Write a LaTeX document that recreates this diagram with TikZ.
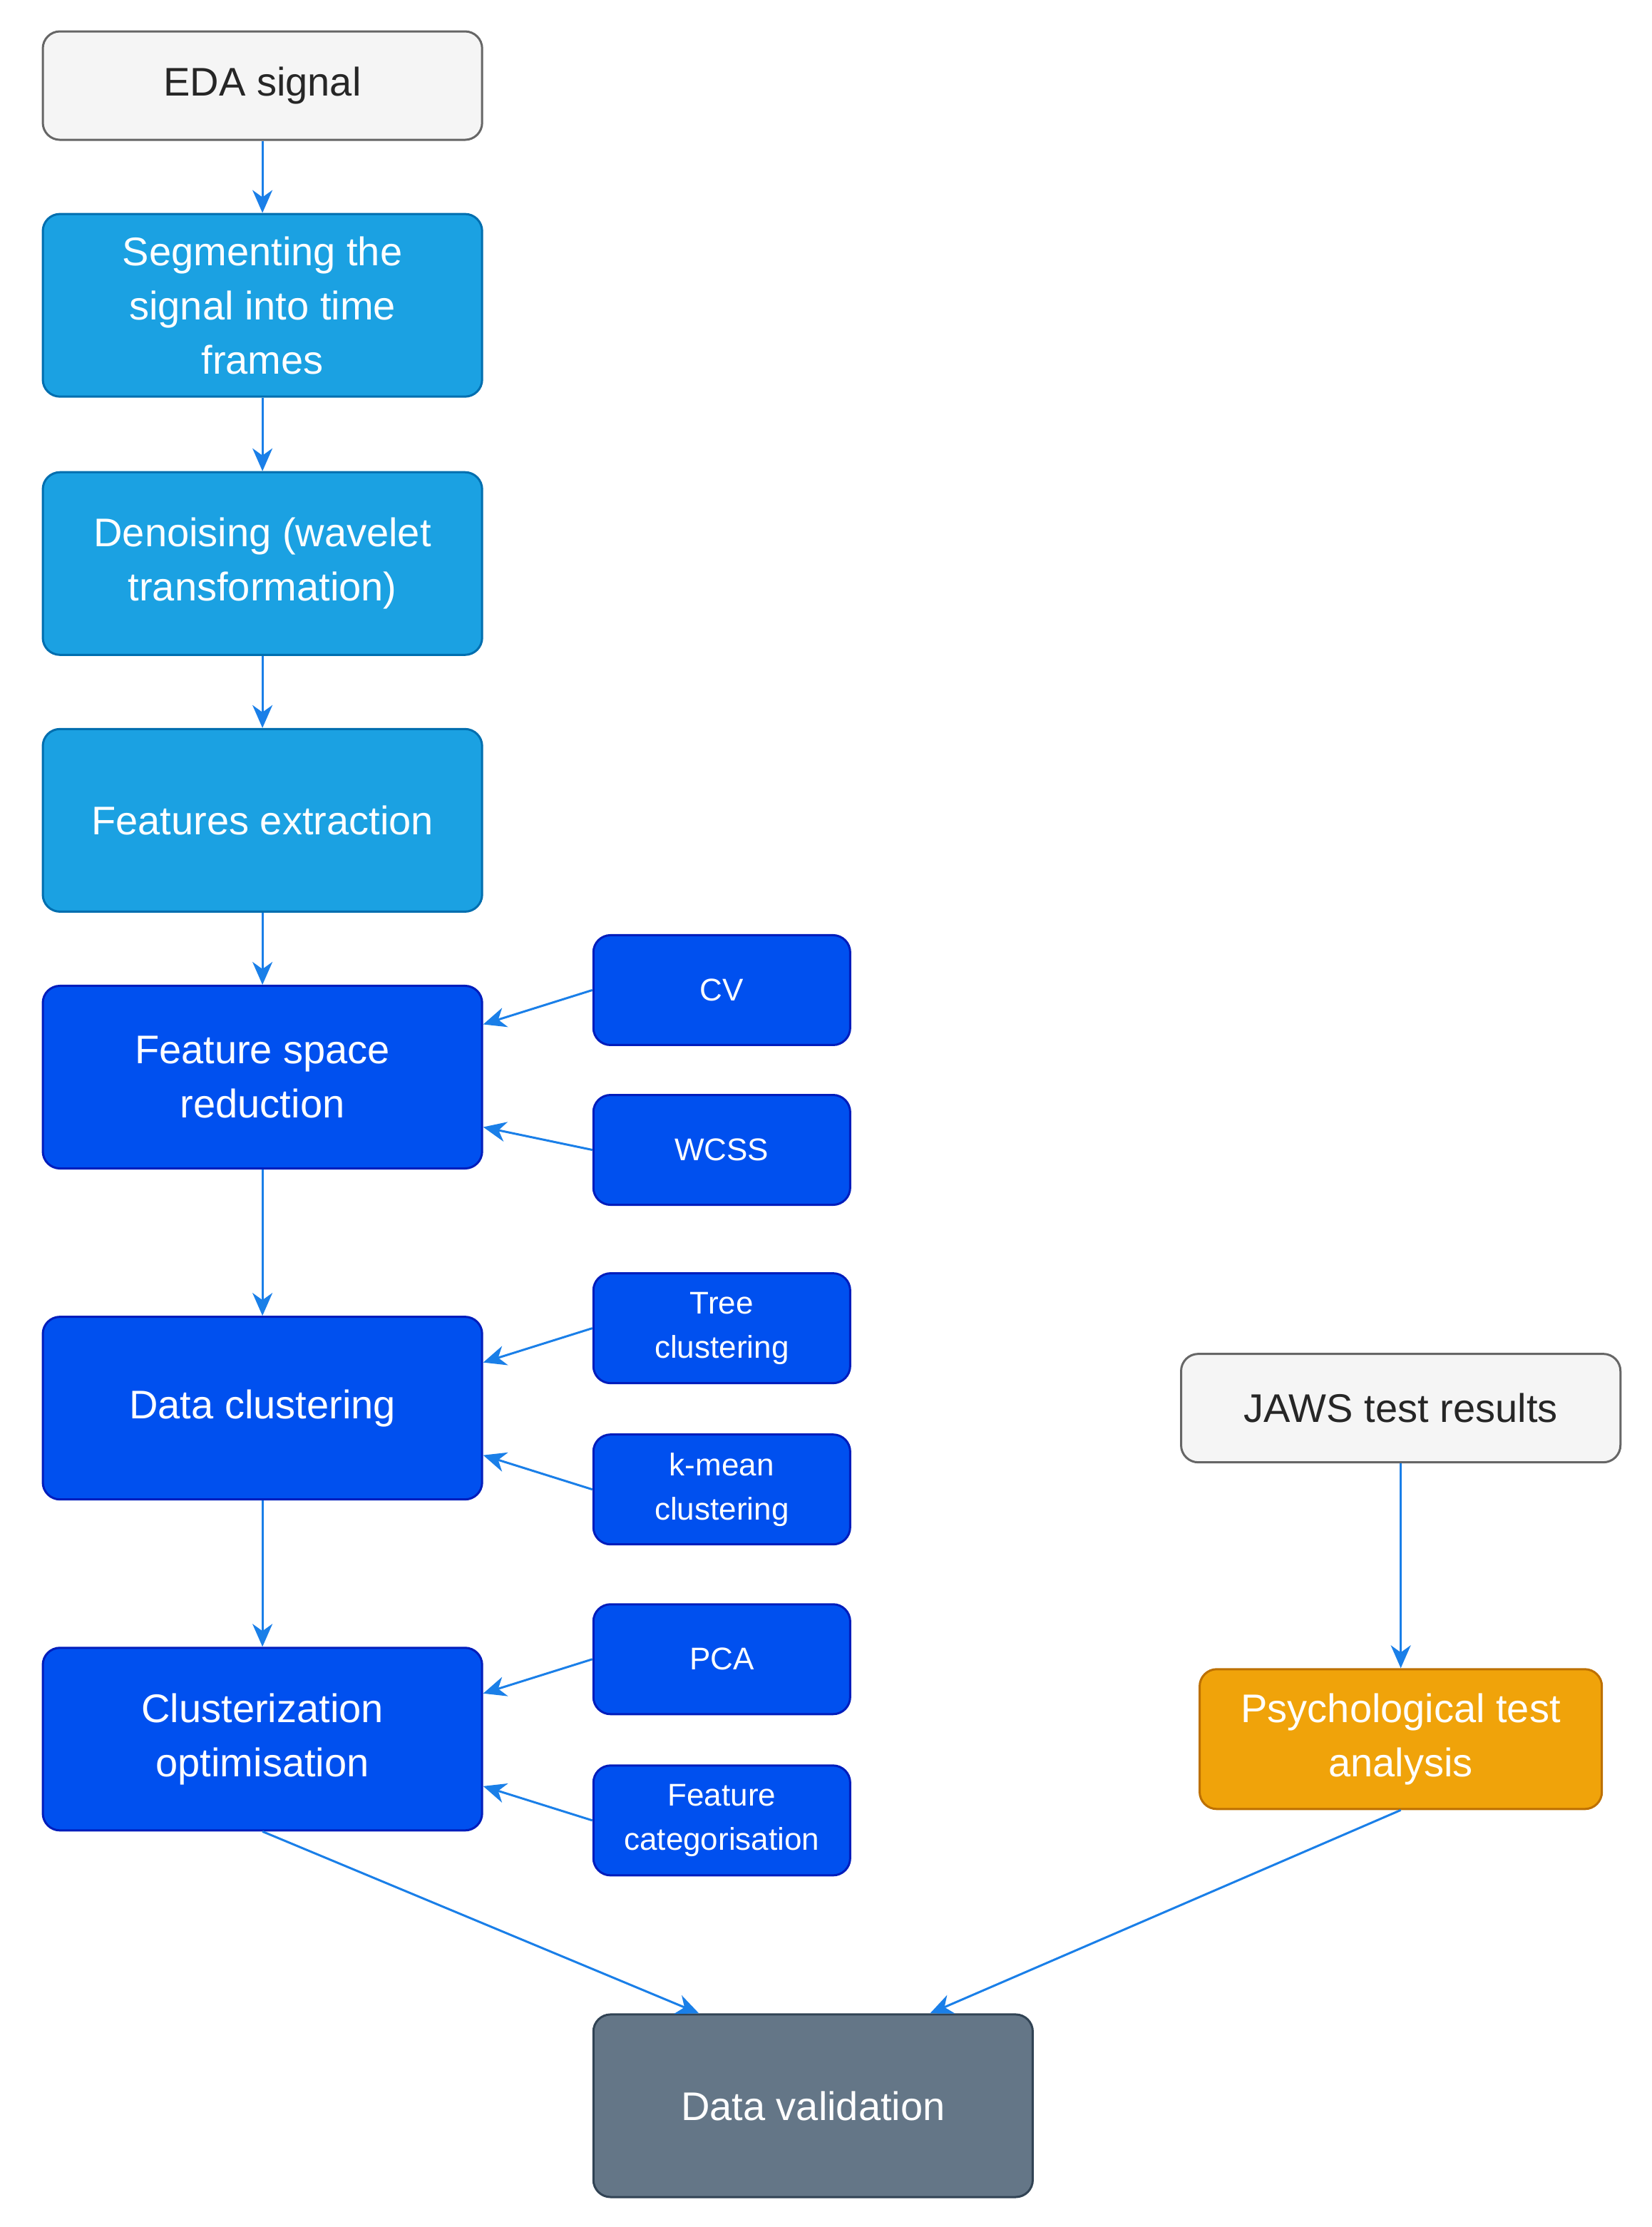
\documentclass[tikz,border=0pt]{standalone}
\usepackage{fontspec}
\setmainfont{Liberation Sans}
\usetikzlibrary{arrows.meta}
\definecolor{arr}{HTML}{1A7FE8}
\begin{document}
\begin{tikzpicture}[x=1pt,y=-1pt,
  box/.style={rounded corners=12pt,line width=1.5pt,align=center,text=white,font=\fontsize{28}{38}\selectfont},
  gray/.style={box,fill=black!4,draw=black!60,text=black!85},
  lb/.style={box,fill=cyan!0!white,fill={rgb,255:red,27;green,161;blue,226},draw={rgb,255:red,0;green,110;blue,175}},
  db/.style={box,fill={rgb,255:red,0;green,80;blue,239},draw={rgb,255:red,0;green,29;blue,188}},
  sb/.style={db,font=\fontsize{22}{31}\selectfont},
  ob/.style={box,fill={rgb,255:red,240;green,163;blue,10},draw={rgb,255:red,189;green,112;blue,0}},
  vb/.style={box,fill={rgb,255:red,100;green,118;blue,135},draw={rgb,255:red,49;green,67;blue,84}},
  ar/.style={draw=arr,line width=1.5pt,-{Stealth[length=16pt,width=14pt,inset=5pt]}}]
\useasboundingbox (0,0) rectangle (1158,1561);
\newcommand{\bx}[6]{\path[#1] (#2,#3) rectangle (#4,#5); \node[align=center,text=#6] at ({(#2+#4)/2},{(#3+#5)/2})}
\tikzset{mk/.style args={#1/#2/#3/#4}{minimum width=#3-#1,minimum height=#4-#2}}
\node[gray,minimum width=308,minimum height=76] (eda) at (184,60) {EDA signal};
\node[lb,minimum width=308,minimum height=128] (seg) at (184,214) {Segmenting the\\signal into time\\frames};
\node[lb,minimum width=308,minimum height=128] (den) at (184,395) {Denoising (wavelet\\transformation)};
\node[lb,minimum width=308,minimum height=128] (fe) at (184,575) {Features extraction};
\node[db,minimum width=308,minimum height=128] (fsr) at (184,755) {Feature space\\reduction};
\node[db,minimum width=308,minimum height=128] (dc) at (184,987) {Data clustering};
\node[db,minimum width=308,minimum height=128] (co) at (184,1219) {Clusterization\\optimisation};
\node[sb,minimum width=180,minimum height=77] (cv) at (506,694) {CV};
\node[sb,minimum width=180,minimum height=77] (wcss) at (506,806) {WCSS};
\node[sb,minimum width=180,minimum height=77] (tree) at (506,931) {Tree\\clustering};
\node[sb,minimum width=180,minimum height=77] (km) at (506,1044) {k-mean\\clustering};
\node[sb,minimum width=180,minimum height=77] (pca) at (506,1163) {PCA};
\node[sb,minimum width=180,minimum height=77,inner sep=1pt] (fc) at (506,1276) {Feature\\categorisation};
\node[gray,minimum width=308,minimum height=76] (jaws) at (982,987) {JAWS test results};
\node[ob,minimum width=282,minimum height=98] (psy) at (982,1219) {Psychological test\\analysis};
\node[vb,minimum width=308,minimum height=128] (dv) at (570,1476) {Data validation};
\draw[ar] (eda) -- (seg);
\draw[ar] (seg) -- (den);
\draw[ar] (den) -- (fe);
\draw[ar] (fe) -- (fsr);
\draw[ar] (fsr) -- (dc);
\draw[ar] (dc) -- (co);
\draw[ar] (cv.west) -- (fsr.east |- 0,718);
\draw[ar] (wcss.west) -- (fsr.east |- 0,790);
\draw[ar] (tree.west) -- (dc.east |- 0,955);
\draw[ar] (km.west) -- (dc.east |- 0,1020);
\draw[ar] (pca.west) -- (co.east |- 0,1187);
\draw[ar] (fc.west) -- (co.east |- 0,1252);
\draw[ar] (jaws) -- (psy);
\draw[ar] (co.south) -- (dv.north -| 490,0);
\draw[ar] (psy.south) -- (dv.north -| 652,0);
\end{tikzpicture}
\end{document}
